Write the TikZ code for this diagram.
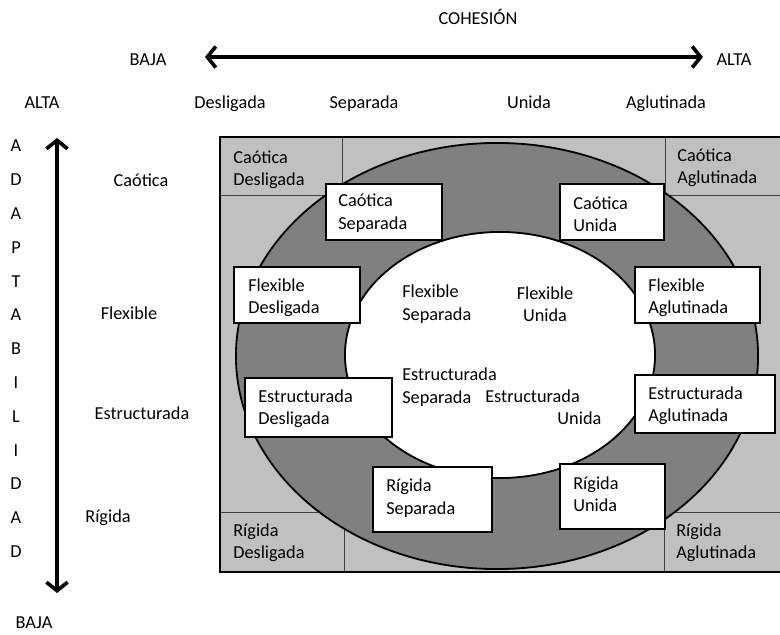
\documentclass[tikz,border=0pt]{standalone}
\usepackage{fontspec}
\setmainfont{Carlito}
\usetikzlibrary{arrows.meta}
\definecolor{lgray}{RGB}{192,192,192}
\definecolor{dgray}{RGB}{128,128,128}
\begin{document}
\begin{tikzpicture}
  [x=0.025cm, y=-0.025cm,
  t/.style={inner sep=0pt, font=\fontsize{13}{15.8}\selectfont, yshift=-1.5pt},
  t1/.style={t, text height=1.6ex, text depth=0.45ex, yshift=-0.6pt},
  tl/.style={t, anchor=west, align=left},
  cell/.style={fill=lgray, draw=black!75, line width=0.6pt},
  wbox/.style={fill=white, draw=black, line width=0.8pt},
  ring/.style={fill=dgray, draw=black, line width=1.3pt},
  hole/.style={fill=white, draw=black, line width=1.3pt},
  frame/.style={draw=black, line width=1.8pt},
  axis/.style={line width=2.6pt,
    {Straight Barb[length=6pt,width=15pt]}-{Straight Barb[length=6pt,width=15pt]}}]

  \useasboundingbox (0,0) rectangle (780,635);

  % cohesion axis
  \node[t1] (coh) at (478,18) {COHESIÓN};
  \node[t1] (cbaja) at (148,59) {BAJA};
  \node[t1] (calta) at (734,59) {ALTA};
  \coordinate (cl) at (205,57);
  \coordinate (cr) at (703,57);
  \draw[axis] (cl) -- (cr);

  \node[t1] (aalta) at (42,102) {ALTA};
  \node[t1] (desl) at (230,102) {Desligada};
  \node[t1] (sepa) at (364,102) {Separada};
  \node[t1] (unid) at (529,102) {Unida};
  \node[t1] (aglu) at (666,102) {Aglutinada};

  % adaptability axis
  \coordinate (at) at (57,138);
  \coordinate (ab) at (57,593);
  \draw[axis] (at) -- (ab);
  \foreach \l [count=\i] in {A,D,A,P,T,A,B,I,L,I,D,A,D}
    \node[t1] (ad\i) at (16,{145+33.8*(\i-1)}) {\l};
  \node[t1] (abaja) at (34,622) {BAJA};

  \node[t1] (caot) at (141,180) {Caótica};
  \node[t1] (flex) at (129,313) {Flexible};
  \node[t1] (estr) at (142,413) {Estructurada};
  \node[t1] (rigi) at (108,516) {Rígida};

  % circumplex
  \fill[lgray] (220,137) rectangle (781,572);
  \draw[cell] (220,137) rectangle (342,195);
  \draw[cell] (665,137) rectangle (781,195);
  \draw[cell] (220,512) rectangle (344,572);
  \draw[cell] (664,512) rectangle (781,572);

  \draw[ring] (497,356) ellipse [x radius=6.525cm, y radius=5.325cm];
  \draw[hole] (500,355) ellipse [x radius=3.875cm, y radius=3.075cm];

  \node[tl] (cd) at (233,168) {Caótica\\Desligada};
  \node[tl] (ca) at (677,166) {Caótica\\Aglutinada};
  \node[tl] (rd) at (233,541) {Rígida\\Desligada};
  \node[tl] (ra) at (676,541) {Rígida\\Aglutinada};

  \draw[wbox] (326,184) rectangle (442,240);
  \node[tl] (cs) at (338,211) {Caótica\\Separada};
  \draw[wbox] (560,184) rectangle (664,240);
  \node[tl] (cu) at (573,212) {Caótica\\Unida};

  \draw[wbox] (234,267) rectangle (360,323);
  \node[tl] (fd) at (248,296) {Flexible\\Desligada};
  \draw[wbox] (635,267) rectangle (760,323);
  \node[tl] (fa) at (648,296) {Flexible\\Aglutinada};

  \draw[wbox] (245,378) rectangle (392,437);
  \node[tl] (ed) at (258,407) {Estructurada\\Desligada};
  \draw[wbox] (635,375) rectangle (775,433);
  \node[tl] (ea) at (648,404) {Estructurada\\Aglutinada};

  \draw[wbox] (373,467) rectangle (492,532);
  \node[tl] (rs) at (386,496) {Rígida\\Separada};
  \draw[wbox] (560,464) rectangle (665,529);
  \node[tl] (ru) at (573,492) {Rígida\\Unida};

  % balanced types
  \node[tl] (fs) at (402,302) {Flexible\\Separada};
  \node[t, align=center] (fu) at (545,302) {Flexible\\Unida};
  \node[tl] (es) at (402,385) {Estructurada\\Separada};
  \node[t, anchor=north west, align=left] (eu) at (485,387) {Estructurada\\\hspace*{3.95em}Unida};

  \draw[frame] (220,137) rectangle (781,572);

\end{tikzpicture}
\end{document}
